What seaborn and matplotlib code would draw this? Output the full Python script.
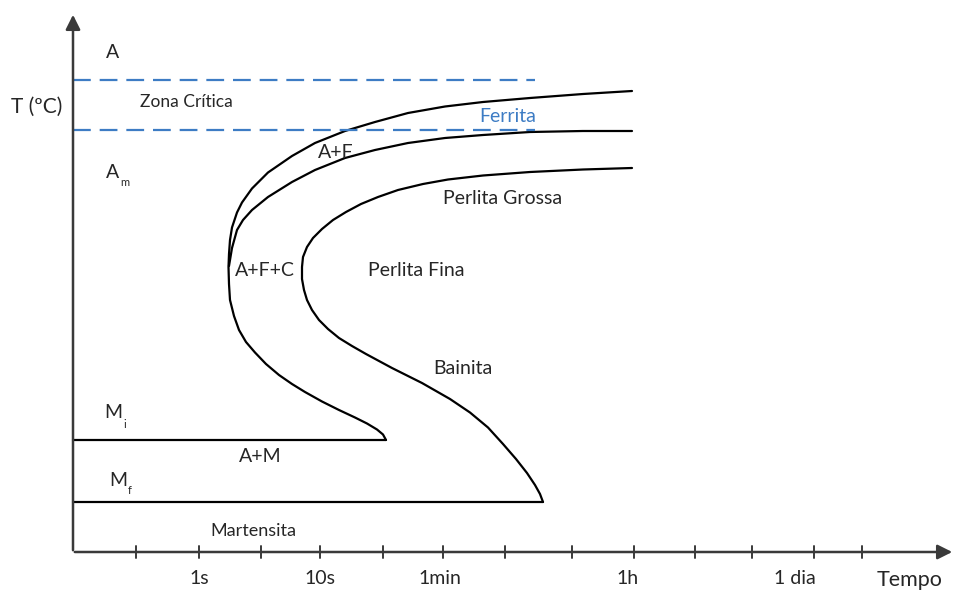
import pandas as pd
import matplotlib.pyplot as plt
import seaborn as sns

# Schematic TTT diagram. x = time position, T = temperature position (arbitrary units)

# ticks on the time axis
tick_pos = [63, 126, 188, 247, 310, 370, 432, 499, 561, 622, 679, 741, 789]
tick_label_pos = [126, 247, 367, 555, 722]
tick_labels = ['1s', '10s', '1min', '1h', '1 dia']

# start of ferrite (outer curve)
c1_t = [559, 510, 457, 410, 372, 335, 302, 272, 242, 219, 195, 179, 169, 164, 159, 157, 156,
        155.5, 156, 157, 161, 166, 173, 182, 193, 206, 219, 232, 249, 266, 282, 294, 304, 310,
        313]
c1_T = [461, 458, 454, 450, 445.5, 439, 430, 421, 409, 396, 379.5, 363.5, 349.5, 339.5, 324.5,
        312, 298, 285, 268, 252, 236, 222, 210, 199.5, 188, 177, 168, 160, 150.5, 142, 134.5,
        128.5, 122.5, 117.5, 112]

# start of pearlite (middle curve)
c2_t = [559, 510, 457, 410, 372, 335, 302, 272, 242, 219, 195, 179, 170, 164, 159, 156]
c2_T = [421, 421, 420, 417, 414, 409, 402, 394, 382, 370, 355, 342, 332, 322, 304, 286]

# end of transformation (inner curve)
c3_t = [559, 510, 457, 410, 375, 350, 325, 305, 288, 273, 260, 249, 240, 234, 230, 229, 229,
        231, 234, 239, 246, 255, 266, 279, 293, 319, 349, 377, 397, 415, 430, 443, 454, 462,
        467, 470]
c3_T = [384, 382.5, 380, 376.5, 372.5, 368, 362, 355, 348, 340, 332, 323, 314, 305, 295, 285,
        273, 262, 252, 242, 232, 223, 214, 206, 198, 184, 169, 153, 139.5, 124.5, 108, 93, 79,
        67, 58, 50]

# martensite lines
mi_t = [0, 313]
mi_T = [112, 112]
mf_t = [0, 470]
mf_T = [50, 50]

# critical zone (dashed)
crit_t = [0, 462]
crit_top = 472
crit_bottom = 422

sns.set_style('white')
plt.rcParams['font.family'] = ['Lato', 'DejaVu Sans']

fig = plt.figure(figsize=(9.61, 5.94), dpi=100)
ax = fig.add_axes([0, 0, 1, 1])
ax.set_xlim(-73, 888)
ax.set_ylim(-42, 552)
ax.axis('off')

curves = pd.concat([
    pd.DataFrame({'t': c1_t, 'T': c1_T, 'curva': 'inicio'}),
    pd.DataFrame({'t': c2_t, 'T': c2_T, 'curva': 'perlita'}),
    pd.DataFrame({'t': c3_t, 'T': c3_T, 'curva': 'fim'}),
    pd.DataFrame({'t': mi_t, 'T': mi_T, 'curva': 'Mi'}),
    pd.DataFrame({'t': mf_t, 'T': mf_T, 'curva': 'Mf'}),
])
sns.lineplot(data=curves, x='t', y='T', units='curva', estimator=None, sort=False,
             color='black', lw=1.6, ax=ax, solid_joinstyle='round')

blue = '#3d7cc4'
for level in [crit_top, crit_bottom]:
    sns.lineplot(x=crit_t, y=[level, level], color=blue, lw=1.6, ax=ax,
                 dashes=False, linestyle=(0, (8, 4)))

# axes with arrows
axis_color = '#3a3a3a'
ax.annotate('', xy=(0, 540), xytext=(0, -1),
            arrowprops=dict(arrowstyle='-|>', color=axis_color, lw=1.8, mutation_scale=22))
ax.annotate('', xy=(882, 0), xytext=(-1, 0),
            arrowprops=dict(arrowstyle='-|>', color=axis_color, lw=1.8, mutation_scale=22))
for p in tick_pos:
    ax.plot([p, p], [-6, 6], color=axis_color, lw=1.4)

txt = '#262626'
fs = 14
for p, lab in zip(tick_label_pos, tick_labels):
    ax.text(p, -26, lab, ha='center', va='center', fontsize=fs, color=txt)
ax.text(837, -28, 'Tempo', ha='center', va='center', fontsize=15.5, color=txt)

# region labels
ax.text(-36, 445, 'T (ºC)', ha='center', va='center', fontsize=15, color=txt)
ax.text(40, 500, 'A', ha='center', va='center', fontsize=fs, color=txt)
ax.text(113, 450, 'Zona Crítica', ha='center', va='center', fontsize=12.5, color=txt)
ax.text(435, 436, 'Ferrita', ha='center', va='center', fontsize=fs, color=blue)
ax.text(263, 400, 'A+F', ha='center', va='center', fontsize=fs, color=txt)
ax.text(40, 380, 'A', ha='center', va='center', fontsize=fs, color=txt)
ax.text(52, 369, 'm', ha='center', va='center', fontsize=8, color=txt)
ax.text(430, 354, 'Perlita Grossa', ha='center', va='center', fontsize=fs, color=txt)
ax.text(192, 281, 'A+F+C', ha='center', va='center', fontsize=fs, color=txt)
ax.text(343, 282, 'Perlita Fina', ha='center', va='center', fontsize=fs, color=txt)
ax.text(390, 184, 'Bainita', ha='center', va='center', fontsize=fs, color=txt)
ax.text(40, 139, 'M', ha='center', va='center', fontsize=fs, color=txt)
ax.text(52, 128, 'i', ha='center', va='center', fontsize=8, color=txt)
ax.text(187, 95, 'A+M', ha='center', va='center', fontsize=fs, color=txt)
ax.text(45, 71, 'M', ha='center', va='center', fontsize=fs, color=txt)
ax.text(57, 61, 'f', ha='center', va='center', fontsize=8, color=txt)
ax.text(180, 21, 'Martensita', ha='center', va='center', fontsize=13, color=txt)

fig.savefig('out.png', dpi=100)
